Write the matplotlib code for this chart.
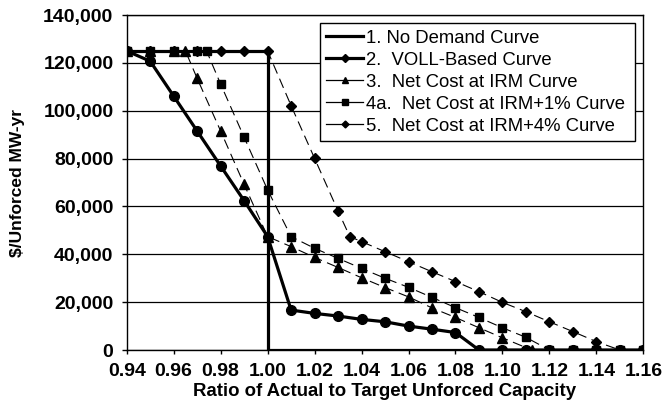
import matplotlib.pyplot as plt
from matplotlib.lines import Line2D
import numpy as np

plt.rcParams['font.family'] = ['Liberation Sans', 'DejaVu Sans']

# 1. No Demand Curve
x_nodem = [0.94, 1.00, 1.00, 1.16]
y_nodem = [125000, 125000, 0, 0]

# 2. VOLL-Based Curve
x_voll = [0.94, 0.95, 0.96, 0.97, 0.98, 0.99, 1.00, 1.01, 1.02, 1.03, 1.04, 1.05,
          1.06, 1.07, 1.08, 1.09, 1.10, 1.11, 1.12, 1.13, 1.14, 1.15, 1.16]
y_voll = [125000, 120700, 106100, 91500, 76900, 62400, 47400, 16700, 15300, 14200,
          12800, 11800, 10000, 8700, 7300, 0, 0, 0, 0, 0, 0, 0, 0]

# 3. Net Cost at IRM Curve
x_irm = [0.94, 0.95, 0.96, 0.965, 0.97, 0.98, 0.99, 1.00, 1.01, 1.02, 1.03, 1.04,
         1.05, 1.06, 1.07, 1.08, 1.09, 1.10, 1.1125, 1.12, 1.13, 1.14, 1.15, 1.16]
y_irm = [125000, 125000, 125000, 125000, 113500, 91500, 69200, 47400, 43200, 38700,
         34500, 30200, 26100, 22200, 17600, 13600, 9300, 5100, 0, 0, 0, 0, 0, 0]

# 4a. Net Cost at IRM+1% Curve
x_irm1 = [0.94, 0.95, 0.96, 0.97, 0.974, 0.98, 0.99, 1.00, 1.01, 1.02, 1.03, 1.04,
          1.05, 1.06, 1.07, 1.08, 1.09, 1.10, 1.11, 1.12, 1.13, 1.14, 1.15, 1.16]
y_irm1 = [125000, 125000, 125000, 125000, 125000, 111100, 88900, 66900, 47400, 42500,
          38300, 34100, 30000, 26200, 22000, 17700, 13600, 9300, 5300, 0, 0, 0, 0, 0]

# 5. Net Cost at IRM+4% Curve
x_irm4 = [0.94, 0.95, 0.96, 0.97, 0.98, 0.99, 1.00, 1.01, 1.02, 1.03, 1.035, 1.04,
          1.05, 1.06, 1.07, 1.08, 1.09, 1.10, 1.11, 1.12, 1.13, 1.14, 1.15, 1.16]
y_irm4 = [125000, 125000, 125000, 125000, 125000, 125000, 125000, 102100, 80100, 58100,
          47400, 45300, 41100, 36900, 32700, 28600, 24400, 19900, 16000, 11800, 7700,
          3500, 0, 0]

labels = ["1. No Demand Curve", "2.  VOLL-Based Curve", "3.  Net Cost at IRM Curve",
          "4a.  Net Cost at IRM+1% Curve", "5.  Net Cost at IRM+4% Curve"]

fig = plt.figure(figsize=(6.68, 4.15), dpi=100)
ax = fig.add_axes([0.1897, 0.1566, 0.7734, 0.8072])

dash = (0, (9, 5))
ax.plot(x_nodem, y_nodem, color='black', lw=2.3, zorder=3)
ax.plot(x_voll, y_voll, color='black', lw=2.3, marker='o', ms=7, zorder=4)
ax.plot(x_irm, y_irm, color='black', lw=0.8, ls=dash, marker='^', ms=6.5, zorder=5)
ax.plot(x_irm1, y_irm1, color='black', lw=0.8, ls=dash, marker='s', ms=6, zorder=5)
ax.plot(x_irm4, y_irm4, color='black', lw=0.8, ls=dash, marker='D', ms=4.8, zorder=5)

ax.set_xlim(0.94, 1.16)
ax.set_ylim(0, 140000)
xt = np.arange(0.94, 1.1601, 0.02)
ax.set_xticks(xt)
ax.set_xticklabels(["%.2f" % v for v in xt])
ax.set_yticks(np.arange(0, 140001, 20000))
ax.set_yticklabels(["{:,}".format(v) if v else "0" for v in range(0, 140001, 20000)])
ax.yaxis.grid(True, color='black', lw=0.9)
ax.set_axisbelow(True)
for s in ax.spines.values():
    s.set_color('black')
    s.set_linewidth(1.0)
ax.tick_params(axis='y', direction='out', length=3.6, width=1, labelsize=14, pad=6)
ax.tick_params(axis='x', direction='out', length=3, width=1, labelsize=14, pad=6.5)
for t in ax.get_xticklabels() + ax.get_yticklabels():
    t.set_fontweight('bold')

ax.set_xlabel("Ratio of Actual to Target Unforced Capacity", fontsize=13.4, fontweight='bold')
ax.xaxis.set_label_coords(0.5, -0.0985)
ax.set_ylabel("$/Unforced MW-yr", fontsize=12.5, fontweight='bold')
ax.yaxis.set_label_coords(-0.197, 0.5)

handles = [
    Line2D([], [], color='black', lw=2.3),
    Line2D([], [], color='black', lw=2.3, marker='D', ms=4),
    Line2D([], [], color='black', lw=0.9, marker='^', ms=4),
    Line2D([], [], color='black', lw=0.9, marker='s', ms=4),
    Line2D([], [], color='black', lw=0.9, marker='D', ms=3.5),
]
leg = ax.legend(handles, labels, loc='upper left', bbox_to_anchor=(0.374, 0.5, 0.61, 0.475),
                mode='expand', fontsize=13.3, frameon=True, fancybox=False,
                edgecolor='black', framealpha=1, handlelength=2.0, handletextpad=0.15,
                borderpad=0.35, labelspacing=0.27, borderaxespad=0)
leg.get_frame().set_linewidth(1.0)

plt.savefig("out.png", dpi=100)
